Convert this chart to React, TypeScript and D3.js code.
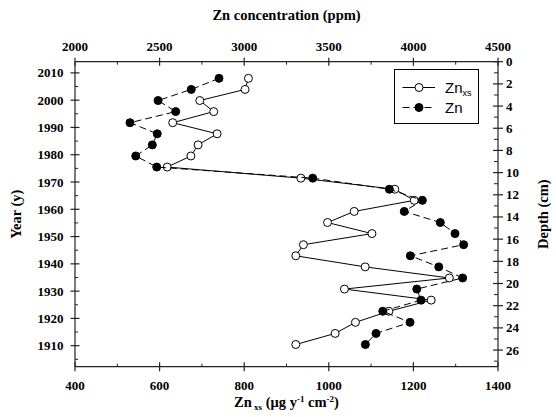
import React from "react";
import * as d3 from "d3";

const depths = [1.5, 2.5, 3.5, 4.5, 5.5, 6.5, 7.5, 8.5, 9.5, 10.5, 11.5, 12.5, 13.5, 14.5, 15.5, 16.5, 17.5, 18.5, 19.5, 20.5, 21.5, 22.5, 23.5, 24.5, 25.5];
const znXs = [810, 802, 695, 728, 631, 736, 691, 674, 618, 934, 1156, 1202, 1060, 997, 1102, 940, 922, 1086, 1285, 1037, 1242, 1142, 1063, 1015, 922];
const zn = [2851, 2687, 2491, 2595, 2325, 2486, 2457, 2359, 2483, 3405, 3858, 4053, 3946, 4159, 4246, 4297, 3982, 4150, 4291, 4020, 4045, 3819, 3980, 3779, 3716];

const bottomTicks = [400, 600, 800, 1000, 1200, 1400];
const bottomMinor = [500, 700, 900, 1100, 1300];
const topTicks = [2000, 2500, 3000, 3500, 4000, 4500];
const topMinor = [2250, 2750, 3250, 3750, 4250];
const yearTicks = [1910, 1920, 1930, 1940, 1950, 1960, 1970, 1980, 1990, 2000, 2010];
const yearMinor = [1905, 1915, 1925, 1935, 1945, 1955, 1965, 1975, 1985, 1995, 2005];
const depthTicks = [0, 2, 4, 6, 8, 10, 12, 14, 16, 18, 20, 22, 24, 26];
const depthMinor = [1, 3, 5, 7, 9, 11, 13, 15, 17, 19, 21, 23, 25, 27];

const L = 75, R = 498, T = 61.7, B = 366.7;
const serif = "Liberation Serif, DejaVu Serif, serif";
const sans = "Liberation Sans, Arial, sans-serif";

export default function App() {
  const xB = d3.scaleLinear().domain([400, 1400]).range([L, R]);
  const xT = d3.scaleLinear().domain([2000, 4500]).range([L, R]);
  const yY = d3.scaleLinear().domain([1902.3, 2014.1]).range([B, T]);
  const yD = d3.scaleLinear().domain([0, 27.5]).range([T, B]);

  const xsPts: [number, number][] = depths.map((d, i) => [xB(znXs[i]), yD(d)]);
  const znPts: [number, number][] = depths.map((d, i) => [xT(zn[i]), yD(d)]);
  const line = d3.line();

  const axisStroke = "#222";
  const tickStyle = { fontFamily: serif, fontWeight: 700, fontSize: "13px" } as React.CSSProperties;
  const titleStyle = { fontFamily: serif, fontWeight: 700, fontSize: "14.5px" } as React.CSSProperties;

  return (
    <svg width={556} height={417} style={{ position: "absolute", left: 0, top: 0, background: "#fff" }}>
      <rect x={0} y={0} width={556} height={417} fill="#fff" />
      <line x1={L} x2={R} y1={T} y2={T} stroke={axisStroke} strokeWidth={1.2} />
      <line x1={L} x2={R} y1={B} y2={B} stroke={axisStroke} strokeWidth={1.2} />
      <line x1={L} x2={L} y1={T} y2={B} stroke={axisStroke} strokeWidth={1.2} />
      <line x1={R} x2={R} y1={T} y2={B} stroke={axisStroke} strokeWidth={1.2} />

      {topTicks.map((t) => (
        <g key={"tt" + t}>
          <line x1={xT(t)} x2={xT(t)} y1={T - 4} y2={T + 4} stroke={axisStroke} strokeWidth={1.2} />
          <text x={xT(t)} y={51} textAnchor="middle" style={tickStyle}>{t}</text>
        </g>
      ))}
      {topMinor.map((t) => (
        <line key={"tm" + t} x1={xT(t)} x2={xT(t)} y1={T} y2={T + 3} stroke={axisStroke} strokeWidth={1} />
      ))}

      {bottomTicks.map((t) => (
        <g key={"bt" + t}>
          <line x1={xB(t)} x2={xB(t)} y1={B - 4.5} y2={B + 4.5} stroke={axisStroke} strokeWidth={1.2} />
          <text x={xB(t)} y={389.5} textAnchor="middle" style={tickStyle}>{t}</text>
        </g>
      ))}
      {bottomMinor.map((t) => (
        <line key={"bm" + t} x1={xB(t)} x2={xB(t)} y1={B} y2={B - 3} stroke={axisStroke} strokeWidth={1} />
      ))}

      {yearTicks.map((t) => (
        <g key={"yt" + t}>
          <line x1={L - 4.5} x2={L + 4.5} y1={yY(t)} y2={yY(t)} stroke={axisStroke} strokeWidth={1.2} />
          <text x={63.5} y={yY(t) + 4.5} textAnchor="end" style={tickStyle}>{t}</text>
        </g>
      ))}
      {yearMinor.map((t) => (
        <line key={"ym" + t} x1={L} x2={L + 3} y1={yY(t)} y2={yY(t)} stroke={axisStroke} strokeWidth={1} />
      ))}

      {depthTicks.map((t) => (
        <g key={"dt" + t}>
          <line x1={R - 5} x2={R + 5} y1={yD(t)} y2={yD(t)} stroke={axisStroke} strokeWidth={1.2} />
          <text x={506} y={yD(t) + 4.5} textAnchor="start" style={tickStyle}>{t}</text>
        </g>
      ))}
      {depthMinor.map((t) => (
        <line key={"dm" + t} x1={R} x2={R - 4} y1={yD(t)} y2={yD(t)} stroke={axisStroke} strokeWidth={1} />
      ))}

      <text x={286.5} y={19.5} textAnchor="middle" style={titleStyle}>
        Zn concentration (ppm)
      </text>
      <text x={286.5} y={406.5} textAnchor="middle" style={titleStyle}>
        Zn<tspan style={{ fontSize: "9px" }} dy={3.5}> xs</tspan>
        <tspan dy={-3.5}> (μg y</tspan>
        <tspan style={{ fontSize: "9px" }} dy={-5}>-1</tspan>
        <tspan dy={5}> cm</tspan>
        <tspan style={{ fontSize: "9px" }} dy={-5}>-2</tspan>
        <tspan dy={5}>)</tspan>
      </text>
      <text transform={`translate(20.5,${(T + B) / 2}) rotate(-90)`} textAnchor="middle" style={titleStyle}>
        Year (y)
      </text>
      <text transform={`translate(548,${(T + B) / 2}) rotate(-90)`} textAnchor="middle" style={titleStyle}>
        Depth (cm)
      </text>

      <path d={line(xsPts) || ""} fill="none" stroke="#000" strokeWidth={1} />
      {xsPts.map((p, i) => (
        <circle key={"xs" + i} cx={p[0]} cy={p[1]} r={4} fill="#fff" stroke="#000" strokeWidth={1} />
      ))}

      <path d={line(znPts) || ""} fill="none" stroke="#000" strokeWidth={1} strokeDasharray="7,4" />
      {znPts.map((p, i) => (
        <circle key={"zn" + i} cx={p[0]} cy={p[1]} r={4} fill="#000" stroke="#000" strokeWidth={1} />
      ))}

      <rect x={394.5} y={69.5} width={84} height={54} fill="#fff" stroke="#000" strokeWidth={1} />
      <line x1={402.5} x2={435} y1={87.5} y2={87.5} stroke="#000" strokeWidth={1} />
      <circle cx={419} cy={87.5} r={4} fill="#fff" stroke="#000" strokeWidth={1} />
      <text x={445} y={93} style={{ fontFamily: sans, fontSize: "15px" }}>
        Zn<tspan style={{ fontSize: "9px" }} dy={3}>xs</tspan>
      </text>
      <line x1={402.5} x2={435} y1={107.5} y2={107.5} stroke="#000" strokeWidth={1} strokeDasharray="7,4" />
      <circle cx={419} cy={107.5} r={4} fill="#000" stroke="#000" strokeWidth={1} />
      <text x={445} y={113} style={{ fontFamily: sans, fontSize: "15px" }}>Zn</text>
    </svg>
  );
}
